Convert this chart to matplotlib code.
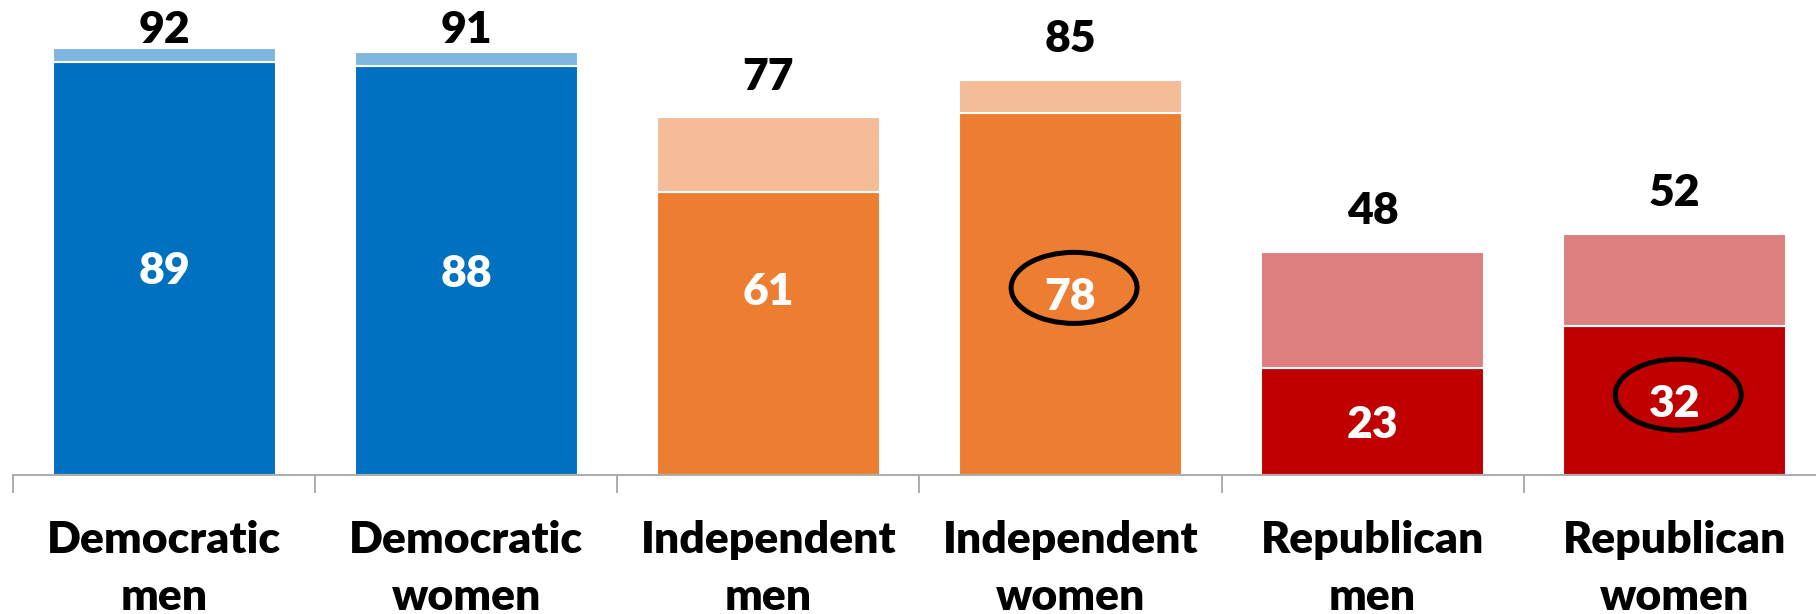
import matplotlib
matplotlib.use('Agg')
from matplotlib import pyplot as plt
from matplotlib.patches import Ellipse

plt.rcParams['font.family'] = ['Lato', 'DejaVu Sans']

# data
categories = ['Democratic\nmen', 'Democratic\nwomen', 'Independent\nmen',
              'Independent\nwomen', 'Republican\nmen', 'Republican\nwomen']
totals = [92, 91, 77, 85, 48, 52]
inner = [89, 88, 61, 78, 23, 32]
circled = [3, 5]

dark = ['#0070C0', '#0070C0', '#ED7D31', '#ED7D31', '#C00000', '#C00000']
light = ['#7FB6E0', '#7FB6E0', '#F5BD97', '#F5BD97', '#DE7F7F', '#DE7F7F']

fig = plt.figure(figsize=(18.16, 6.14), dpi=100)
ax = fig.add_axes([0.0073, 0.2264, 0.998, 0.7736])

x = list(range(len(categories)))
w = 0.74
ax.bar(x, inner, width=w, color=dark, edgecolor='white', linewidth=1.5, zorder=2)
ax.bar(x, [t - v for t, v in zip(totals, inner)], bottom=inner, width=w,
       color=light, edgecolor='white', linewidth=1.5, zorder=2)

ax.set_xlim(-0.5, len(categories) - 0.5)
ax.set_ylim(0, 102.3)

fs = 32
fw = 'heavy'
for i, (t, v) in enumerate(zip(totals, inner)):
    # total above bar
    ty = min(t + 6, 93)
    ax.text(i, ty, str(t), ha='center', va='baseline', fontsize=fs,
            fontweight=fw, color='black')
    # value inside dark segment
    cy = v / 2.0
    if i == 2:
        cy = 40
    ax.annotate(str(v), (i, cy), xytext=(0, -16), textcoords='offset pixels',
                ha='center', va='baseline', fontsize=fs, fontweight=fw,
                color='white', zorder=4)
    if i in circled:
        ax.add_patch(Ellipse((i + 0.012, cy + 1.3), 0.417, 15.3, fill=False,
                             edgecolor='black', linewidth=3.6, zorder=5))
    # category label, two lines
    l1, l2 = categories[i].split('\n')
    ax.annotate(l1, (i, 0), xytext=(0, -78), textcoords='offset pixels',
                ha='center', va='baseline', fontsize=fs, fontweight=fw,
                annotation_clip=False)
    ax.annotate(l2, (i, 0), xytext=(0, -135), textcoords='offset pixels',
                ha='center', va='baseline', fontsize=fs, fontweight=fw,
                annotation_clip=False)

for s in ['top', 'right', 'left']:
    ax.spines[s].set_visible(False)
ax.spines['bottom'].set_color('#A6A6A6')
ax.spines['bottom'].set_linewidth(1.3)
ax.set_yticks([])
ax.set_xticks([])
ax.set_xticks([i - 0.5 for i in range(len(categories) + 1)], minor=True)
ax.tick_params(axis='x', which='minor', length=13, width=1.3, color='#A6A6A6',
               labelbottom=False)

fig.savefig('out.png', dpi=100)
